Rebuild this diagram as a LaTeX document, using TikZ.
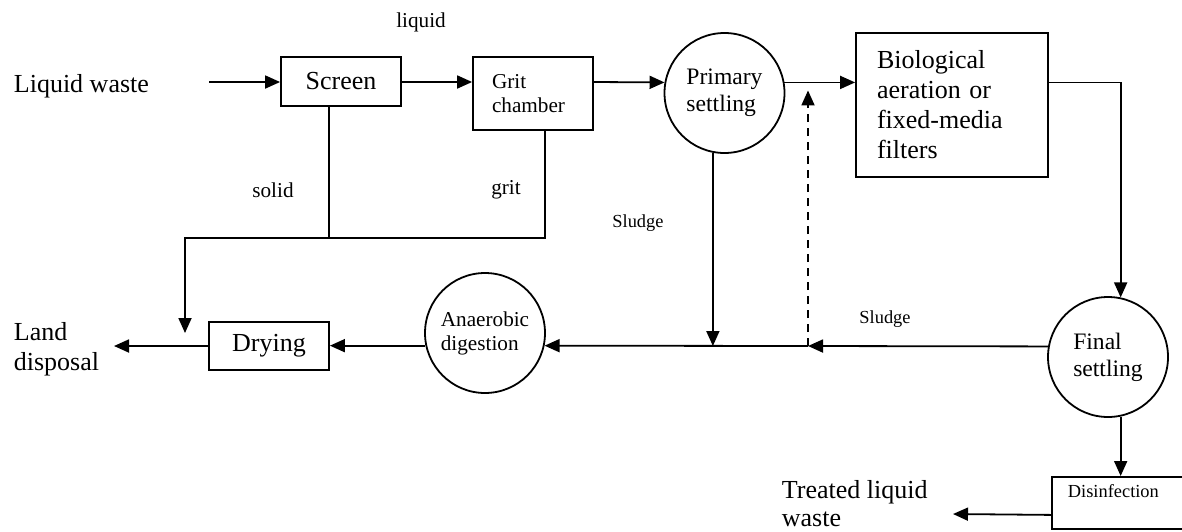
\documentclass[tikz,border=0pt]{standalone}
\usepackage{fontspec}
\setmainfont{Liberation Serif}
\usetikzlibrary{arrows.meta,positioning}
\tikzset{
  box/.style={rectangle, draw=black, line width=0.9pt, inner sep=0pt},
  tank/.style={circle, draw=black, line width=0.9pt, inner sep=0pt,
    minimum size=60pt, align=left},
  bigtxt/.style={font=\fontsize{13}{15}\selectfont},
  midtxt/.style={font=\fontsize{11.8}{13.5}\selectfont},
  smltxt/.style={font=\fontsize{10.6}{12}\selectfont},
  tinytxt/.style={font=\fontsize{9.2}{11}\selectfont},
}

\begin{document}
\begin{tikzpicture}[x=0.5pt, y=-0.5pt, line width=0.9pt,
  flow/.style={-{Triangle[length=7.5pt, width=6.5pt]}},
  flowd/.style={flow, dash pattern=on 4pt off 3pt},
  lbl/.style={inner sep=0pt, align=left},
]
\useasboundingbox (0,0) rectangle (1182,531);
% Liquid line
\node[box, bigtxt, minimum width=60pt, minimum height=24.5pt] (screen) at (341,81.5) {Screen};
\node[box, smltxt, align=left, minimum height=36.5pt, text width=41pt, inner xsep=9.5pt] (grit) at (533,93.5) {Grit\\chamber};
\node[tank, midtxt] (primary) at (724.5,93) {Primary\\settling};
\node[box, bigtxt, align=left, minimum height=72pt, text width=75pt, inner xsep=10.5pt] (bio) at (952,105) {Biological\\aeration or\\fixed-media\\filters};
\node[tank, midtxt] (final) at (1108,357) {Final\\settling};
\node[box, tinytxt, anchor=north west, align=left, text width=59pt, text height=7pt, text depth=12pt,
      inner xsep=8pt, inner ysep=3.5pt] (disinf) at (1051,476) {Disinfection};
% Sludge line
\node[tank, smltxt] (anaer) at (485,333) {Anaerobic\\digestion};
\node[box, bigtxt, minimum width=60pt, minimum height=24pt] (drying) at (269,346) {Drying};
% Inlets and outlets
\node[lbl, bigtxt, anchor=base west] (inflow) at (13,92) {Liquid waste};
\node[lbl, bigtxt, anchor=north west] (land) at (13,322) {Land\\disposal};
\node[lbl, bigtxt, anchor=north west, font=\fontsize{13}{14}\selectfont] (treated) at (781,480) {Treated liquid\\waste};
% Stream labels
\node[lbl, smltxt] (liq) at (421,22) {liquid};
\node[lbl, smltxt] (sol) at (273,190) {solid};
\node[lbl, smltxt] (gritlbl) at (506,190) {grit};
\node[lbl, tinytxt] (sludgeA) at (638,223) {Sludge};
\node[lbl, tinytxt] (sludgeB) at (885,319) {Sludge};
% Junctions
\coordinate (inlet) at (209,82);
\coordinate (sj) at (329,238);
\coordinate (gj) at (545,238);
\coordinate (dj) at (185,238);
\coordinate (dryin) at (185,333);
\coordinate (junc) at (808,346);
\coordinate (landout) at (114,346);
\coordinate (treatout) at (953,514);
% Liquid flow
\draw[flow] (inlet) -- (screen.west |- inlet);
\draw[flow] (screen.east |- inlet) -- (grit.west |- inlet);
\draw[flow] (grit.east |- inlet) -- (primary.170);
\draw[flow] (primary.10) -- (bio.west |- primary.10);
\draw[flow] (bio.east |- primary.10) -| (final.78);
\draw[flow] (final.282) -- (final.282 |- disinf.north);
\draw[flow] ([yshift=-6pt]disinf.west) -- (treatout);
% Sludge flow
\draw[flow] (final.170) -- (junc);
\draw[flowd, shorten >=4pt] (junc) -- (junc |- primary.10);
\draw[flow] (junc) -- (anaer.-12);
\draw[flow] (primary.259) -- (primary.259 |- junc);
\draw[flow] (anaer.192) -- (anaer.192 -| drying.east);
\draw[flow] (drying.west) -- (landout);
% Screenings and grit
\draw (sj |- screen.south) -- (sj);
\draw[flow] (gj |- grit.south) -- (gj) -- (dj) -- (dryin);
\end{tikzpicture}
\end{document}
